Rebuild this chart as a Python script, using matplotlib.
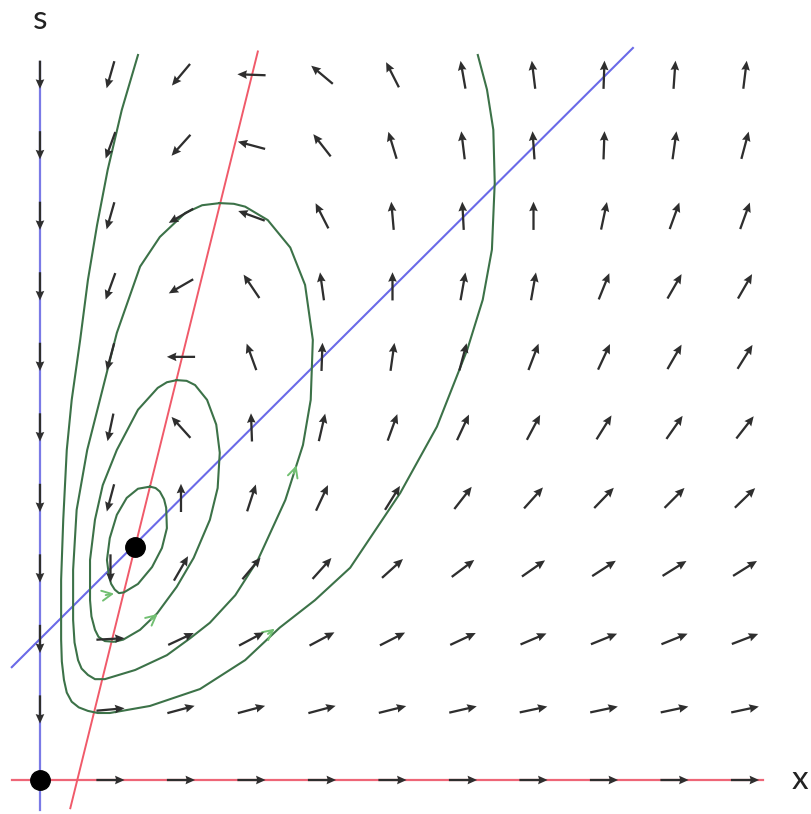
import numpy as np
import matplotlib.pyplot as plt

# grid of direction arrows: angle in degrees for x = 1..10, rows s = 1..10
grid_x = [1, 2, 3, 4, 5, 6, 7, 8, 9, 10]
grid_s = [1, 2, 3, 4, 5, 6, 7, 8, 9, 10]
angles = [
    [5, 15, 15, 15, 14, 13, 12, 12, 12, 12],          # s=1
    [3, 25, 28, 28, 27, 25, 23, 22, 22, 21],          # s=2
    [270, 60, 50, 48, 42, 37, 35, 33, 32, 32],        # s=3
    [255, 90, 72, 65, 58, 52, 48, 46, 45, 44],        # s=4
    [258, 132, 92, 77, 70, 65, 62, 58, 55, 52],       # s=5
    [255, 180, 110, 88, 82, 75, 69, 65, 60, 58],      # s=6
    [250, 210, 124, 98, 90, 80, 80, 68, 60, 60],      # s=7
    [254, 210, 160, 117, 95, 93, 90, 78, 70, 70],     # s=8
    [250, 228, 165, 128, 107, 97, 94, 88, 82, 75],    # s=9
    [254, 230, 178, 140, 117, 100, 97, 88, 86, 83],   # s=10
]
# arrows on the axes: x axis points right, s axis points down
axis_angle_x = 0
axis_angle_s = 270

# nullclines
blue_x = [-0.40, 8.41]
blue_s = [1.60, 10.38]
red_x = [0.43, 3.09]
red_s = [-0.40, 10.33]
s_axis = [-0.43, 10.18]
x_axis = [-0.40, 10.26]

# trajectories (closed orbits D, C, B and open orbit A)
orbit_d_x = [1.56, 1.64, 1.70, 1.76, 1.79, 1.80, 1.73, 1.59, 1.39, 1.19, 1.12, 1.06, 1.01, 0.98, 0.95, 0.99,
             1.09, 1.23, 1.39, 1.56]
orbit_d_s = [4.16, 4.14, 4.09, 3.98, 3.86, 3.57, 3.29, 3.02, 2.78, 2.66, 2.65, 2.70, 2.78, 2.88, 3.12, 3.43,
             3.76, 4.00, 4.13, 4.16]

orbit_c_x = [1.94, 2.08, 2.20, 2.37, 2.50, 2.55, 2.52, 2.41, 2.18, 1.94, 1.66, 1.42, 1.18, 1.05, 0.92, 0.83,
             0.78, 0.73, 0.71, 0.71, 0.78, 0.89, 1.09, 1.39, 1.67, 1.80, 1.94]
orbit_c_s = [5.67, 5.66, 5.60, 5.39, 5.04, 4.64, 4.14, 3.69, 3.15, 2.74, 2.36, 2.13, 1.99, 1.96, 1.97, 2.03,
             2.13, 2.32, 2.55, 3.12, 3.69, 4.18, 4.68, 5.25, 5.56, 5.64, 5.67]

orbit_b_x = [2.55, 2.75, 2.91, 3.23, 3.55, 3.76, 3.87, 3.84, 3.73, 3.48, 3.09, 2.77, 2.41, 2.13, 1.80, 1.35,
             0.92, 0.78, 0.68, 0.59, 0.54, 0.49, 0.47, 0.47, 0.52, 0.67, 0.85, 1.09, 1.42, 1.70, 2.06, 2.30,
             2.55]
orbit_b_s = [8.18, 8.17, 8.13, 7.94, 7.55, 7.02, 6.24, 5.39, 4.75, 3.97, 3.12, 2.62, 2.23, 2.01, 1.77, 1.56,
             1.43, 1.43, 1.49, 1.58, 1.70, 1.95, 2.27, 2.98, 3.83, 4.68, 5.39, 6.34, 7.28, 7.70, 8.04, 8.15,
             8.18]

orbit_a_x = [1.39, 1.16, 0.96, 0.81, 0.68, 0.57, 0.45, 0.38, 0.33, 0.30, 0.30, 0.31, 0.34, 0.38, 0.45, 0.55,
             0.68, 0.82, 0.99, 1.56, 2.27, 2.91, 3.40, 3.90, 4.40, 5.11, 5.63, 6.06, 6.28, 6.41, 6.45, 6.43,
             6.34, 6.21]
orbit_a_s = [10.28, 9.50, 8.65, 7.87, 7.09, 6.24, 5.39, 4.68, 3.69, 2.84, 1.99, 1.68, 1.42, 1.24, 1.11, 1.03,
             0.98, 0.95, 0.95, 1.05, 1.29, 1.70, 2.16, 2.55, 3.01, 4.07, 5.01, 6.10, 6.81, 7.52, 8.47, 9.22,
             9.79, 10.28]

# green direction markers on the orbits: (x, s, angle)
green_marks = [(1.09, 2.65, 10), (1.70, 2.38, 40), (3.65, 4.50, 72), (3.36, 2.17, 38)]

# equilibria
eq_x = [0, 1.35]
eq_s = [0, 3.31]

fig = plt.figure(figsize=(8.12, 8.14), dpi=100)
ax = fig.add_axes([0, 0, 1, 1])
ax.set_xlim(-0.567, 10.95)
ax.set_ylim(-0.482, 11.06)
ax.axis('off')

# nullclines and axes lines
ax.plot([0, 0], s_axis, color='#7a7ae6', lw=1.6, zorder=1)
ax.plot(x_axis, [0, 0], color='#ee6677', lw=1.6, zorder=1)
ax.plot(blue_x, blue_s, color='#6a6ae8', lw=1.5, zorder=1)
ax.plot(red_x, red_s, color='#f05a6a', lw=1.4, zorder=1)

# orbits
for ox, os_ in [(orbit_a_x, orbit_a_s), (orbit_b_x, orbit_b_s), (orbit_c_x, orbit_c_s), (orbit_d_x, orbit_d_s)]:
    ax.plot(ox, os_, color='#3c7248', lw=1.5, zorder=2, solid_joinstyle='round')

for gx, gs, ga in green_marks:
    r = np.deg2rad(ga)
    ax.annotate('', xy=(gx, gs), xytext=(gx - 0.2 * np.cos(r), gs - 0.2 * np.sin(r)),
                arrowprops=dict(arrowstyle='->', color='#72c072', lw=1.4, mutation_scale=18), zorder=3)

# direction field
X, S = np.meshgrid(grid_x, grid_s)
A = np.deg2rad(np.array(angles, dtype=float))
qkw = dict(angles='xy', scale_units='xy', scale=2.5, pivot='mid', color='#2e2e2e',
           width=0.0028, headwidth=3.8, headlength=4.2, headaxislength=3.8, zorder=4)
ax.quiver(X, S, np.cos(A), np.sin(A), **qkw)

ax_x = np.array(grid_x, dtype=float)
ax.quiver(ax_x, np.zeros_like(ax_x), np.cos(np.deg2rad(axis_angle_x)) * np.ones_like(ax_x),
          np.sin(np.deg2rad(axis_angle_x)) * np.ones_like(ax_x), **qkw)
ax_s = np.array(grid_s, dtype=float)
ax.quiver(np.zeros_like(ax_s), ax_s, np.cos(np.deg2rad(axis_angle_s)) * np.ones_like(ax_s),
          np.sin(np.deg2rad(axis_angle_s)) * np.ones_like(ax_s), **qkw)

# equilibria
ax.plot(eq_x, eq_s, 'o', color='black', markersize=14, zorder=5)

ax.text(0, 10.78, 's', fontsize=24, family='Lato', color='#222222', ha='center', va='center')
ax.text(10.78, 0, 'x', fontsize=24, family='Lato', color='#222222', ha='center', va='center')

fig.savefig('out.png', dpi=100, facecolor='white')
